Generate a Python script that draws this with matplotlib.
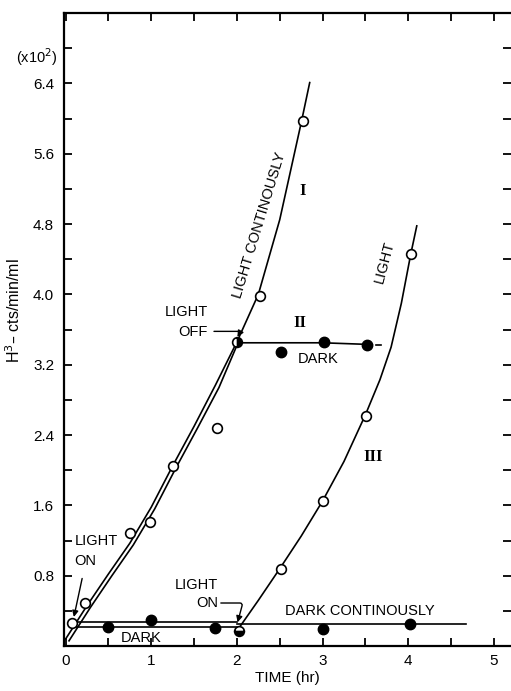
import matplotlib
matplotlib.use("Agg")
import matplotlib.pyplot as plt
import numpy as np

plt.rcParams['font.family'] = ['Liberation Sans', 'DejaVu Sans']

# ---- data (time in hr, counts x10^2) ----
# Curve I (light continuously) open circles
I_t = [0.07, 0.23, 0.75, 0.99, 1.25, 1.77, 2.27, 2.77]
I_y = [0.26, 0.49, 1.29, 1.41, 2.05, 2.48, 3.98, 5.97]
# traced curve I
I_line_t = [0.0, 0.25, 0.5, 0.75, 1.0, 1.25, 1.5, 1.75, 2.0, 2.25, 2.5, 2.75, 2.85]
I_line_y = [0.08, 0.46, 0.82, 1.17, 1.58, 2.05, 2.50, 2.97, 3.46, 4.0, 4.85, 5.95, 6.41]
# curve II light phase (second line of the double line)
II_light_t = [0.04, 0.29, 0.54, 0.79, 1.04, 1.29, 1.54, 1.79, 2.0]
II_light_y = [0.06, 0.44, 0.80, 1.15, 1.56, 2.03, 2.48, 2.94, 3.42]
# light off point
off_t, off_y = [2.0], [3.46]
# curve II dark phase
II_dark_t = [2.51, 3.02, 3.52]
II_dark_y = [3.35, 3.46, 3.43]
II_dark_line_t = [2.0, 2.5, 3.0, 3.58]
II_dark_line_y = [3.45, 3.45, 3.45, 3.43]
# curve III dark phase + dark continuously (filled)
D_t = [0.49, 1.0, 1.75, 3.01, 4.02]
D_y = [0.22, 0.30, 0.21, 0.20, 0.25]
on_t, on_y = [2.02], [0.17]
# curve III light
III_t = [2.51, 3.0, 3.51, 4.03]
III_y = [0.88, 1.65, 2.62, 4.46]
III_line_t = [2.02, 2.25, 2.5, 2.75, 3.0, 3.25, 3.5, 3.67, 3.8, 3.92, 4.03, 4.1]
III_line_y = [0.20, 0.52, 0.88, 1.25, 1.65, 2.1, 2.63, 3.03, 3.4, 3.9, 4.46, 4.78]

ytick_vals = [0.8, 1.6, 2.4, 3.2, 4.0, 4.8, 5.6, 6.4]
xtick_vals = [0, 1, 2, 3, 4, 5]

fig = plt.figure(figsize=(5.11, 6.91), dpi=100)
ax = fig.add_axes([0.125, 0.065, 0.875, 0.916])
ax.set_xlim(-0.02, 5.2)
ax.set_ylim(0, 7.2)

lw = 1.2
k = 'black'
# lines
ax.plot(I_line_t, I_line_y, color=k, lw=lw, zorder=2)
ax.plot(II_light_t, II_light_y, color=k, lw=lw, zorder=2)
ax.plot(II_dark_line_t, II_dark_line_y, color=k, lw=lw, zorder=2)
ax.plot([3.62, 3.68], [3.42, 3.42], color=k, lw=lw, zorder=2)
ax.plot([0.07, 2.0], [0.22, 0.22], color=k, lw=lw, zorder=2)
ax.plot([0.07, 2.0], [0.27, 0.27], color=k, lw=lw, zorder=2)
ax.plot([2.0, 4.67], [0.25, 0.25], color=k, lw=lw, zorder=2)
ax.plot(III_line_t, III_line_y, color=k, lw=lw, zorder=2)

ms_o = 7
ms_f = 7.5
ax.plot(I_t, I_y, 'o', ms=ms_o, mfc='white', mec=k, mew=1.2, zorder=3)
ax.plot(III_t, III_y, 'o', ms=ms_o, mfc='white', mec=k, mew=1.2, zorder=3)
ax.plot(II_dark_t, II_dark_y, 'o', ms=ms_f, mfc=k, mec=k, zorder=3)
ax.plot(D_t, D_y, 'o', ms=ms_f, mfc=k, mec=k, zorder=3)
ax.plot(off_t, off_y, 'o', ms=ms_o, mfc=k, mec=k, mfcalt='white',
        fillstyle='right', mew=1.2, zorder=3)
ax.plot(on_t, on_y, 'o', ms=ms_o, mfc=k, mec=k, mfcalt='white',
        fillstyle='bottom', mew=1.2, zorder=3)

# axes styling
ax.spines['right'].set_visible(False)
for s in ['left', 'bottom', 'top']:
    ax.spines[s].set_linewidth(1.6)
ax.set_yticks(ytick_vals)
ax.set_yticklabels([f"{v:.1f}" for v in ytick_vals])
ax.set_yticks(np.arange(0.4, 7.0, 0.8), minor=True)
ax.set_xticks(xtick_vals)
ax.set_xticklabels([str(v) for v in xtick_vals])
ax.set_xticks(np.arange(0.5, 5.2, 1.0), minor=True)
ax.tick_params(which='both', direction='in', length=6, width=1.3,
               top=True, right=True, labelsize=11)
ax.tick_params(axis='y', pad=7)
ax.tick_params(axis='x', pad=6)

ax.set_xlabel('TIME (hr)', fontsize=11, labelpad=2)
fig.text(14/511, 1 - 311/691, 'H$^3$– cts/min/ml', rotation=90,
         ha='center', va='center', fontsize=11.5)
fig.text(58/511, 1 - 57/691, '(x10$^2$)', ha='right', va='center', fontsize=10.5)

fs = 10.5
ax.text(2.26, 4.79, 'LIGHT CONTINOUSLY', rotation=73, ha='center', va='center', fontsize=fs)
ax.text(3.72, 4.37, 'LIGHT', rotation=75, ha='center', va='center', fontsize=fs)
ax.text(2.77, 5.18, 'I', ha='center', va='center', fontsize=12,
        family='Liberation Serif', fontweight='bold')
ax.text(2.74, 3.67, 'II', ha='center', va='center', fontsize=12,
        family='Liberation Serif', fontweight='bold')
ax.text(3.59, 2.15, 'III', ha='center', va='center', fontsize=12,
        family='Liberation Serif', fontweight='bold')
ax.text(2.95, 3.27, 'DARK', ha='center', va='center', fontsize=fs)
ax.text(3.43, 0.40, 'DARK CONTINOUSLY', ha='center', va='center', fontsize=fs)
ax.text(0.88, 0.09, 'DARK', ha='center', va='center', fontsize=fs)

ax.text(1.66, 3.80, 'LIGHT', ha='right', va='center', fontsize=fs)
ax.text(1.66, 3.57, 'OFF', ha='right', va='center', fontsize=fs)
ax.text(0.105, 1.19, 'LIGHT', ha='left', va='center', fontsize=fs)
ax.text(0.105, 0.97, 'ON', ha='left', va='center', fontsize=fs)
ax.text(1.53, 0.69, 'LIGHT', ha='center', va='center', fontsize=fs)
ax.text(1.65, 0.49, 'ON', ha='center', va='center', fontsize=fs)

arr = dict(arrowstyle='-|>', color=k, lw=1.0, mutation_scale=9)
ax.annotate('', xy=(1.99, 3.49), xytext=(1.70, 3.58),
            arrowprops=dict(arr, connectionstyle='angle,angleA=0,angleB=60,rad=3'))
ax.annotate('', xy=(0.09, 0.30), xytext=(0.20, 0.80), arrowprops=arr)
ax.annotate('', xy=(2.0, 0.24), xytext=(1.78, 0.49),
            arrowprops=dict(arr, connectionstyle='angle,angleA=0,angleB=75,rad=3'))

fig.savefig('out.png', dpi=100)
